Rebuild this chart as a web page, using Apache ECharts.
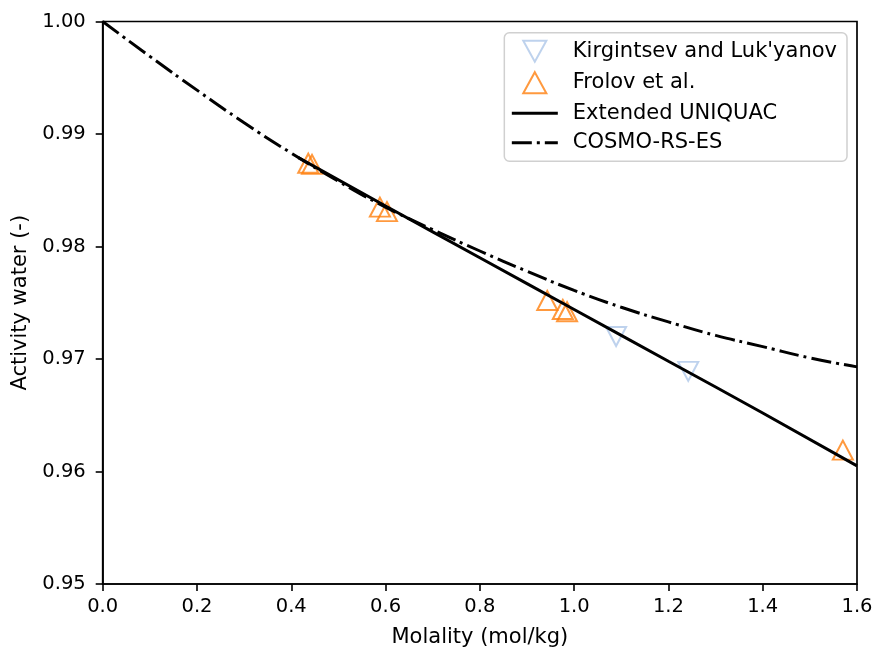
<!DOCTYPE html>
<html>
<head>
<meta charset="utf-8">
<script src="https://cdn.jsdelivr.net/npm/echarts@6/dist/echarts.min.js"></script>
<style>html,body{margin:0;padding:0;background:#fff}#c{width:875px;height:647px}</style>
</head>
<body>
<div id="c"></div>
<script>
const kirgX = [1.089, 1.242];
const kirgY = [0.9720, 0.9689];
const frolovX = [0.436, 0.444, 0.588, 0.603, 0.943, 0.976, 0.985, 1.570];
const frolovY = [0.9874, 0.9873, 0.9835, 0.9831, 0.9752, 0.9744, 0.9742, 0.9619];
const uniquacX = [0.415, 0.6, 0.8, 1.0, 1.2, 1.4, 1.6];
const uniquacY = [0.9879, 0.9836, 0.9790, 0.9744, 0.9698, 0.9652, 0.9605];
const cosmoX = [0, 0.1, 0.2, 0.3, 0.4, 0.5, 0.6, 0.7, 0.8, 0.9, 1.0, 1.1, 1.2, 1.3, 1.4, 1.5, 1.6];
const cosmoY = [1.0, 0.9969, 0.9939, 0.9910, 0.9883, 0.9858, 0.9835, 0.9815, 0.9796, 0.9778, 0.9761, 0.9746, 0.9733, 0.9721, 0.9711, 0.9701, 0.9693];
const xTicks = [0, 1.6, 0.2];
const yTicks = [0.95, 1.0, 0.01];
const legendNames = ["Kirgintsev and Luk'yanov", 'Frolov et al.', 'Extended UNIQUAC', 'COSMO-RS-ES'];

const zip = (a, b) => a.map((v, i) => [v, b[i]]);
const font = 'DejaVu Sans';
const chart = echarts.init(document.getElementById('c'));
chart.setOption({
  animation: false,
  backgroundColor: '#fff',
  grid: { left: 102.7, right: 18, top: 21.5, bottom: 63, outerBoundsMode: 'none', containLabel: false,
          show: true, borderColor: '#000', borderWidth: 1.7, backgroundColor: 'transparent' },
  xAxis: {
    type: 'value', min: xTicks[0], max: xTicks[1], interval: xTicks[2],
    name: 'Molality (mol/kg)', nameLocation: 'middle', nameGap: 43,
    nameTextStyle: { fontFamily: font, fontSize: 21, color: '#000' },
    axisLine: { lineStyle: { color: '#000', width: 1.7 } },
    axisTick: { length: 7, lineStyle: { color: '#000', width: 1.6 } },
    axisLabel: { fontFamily: font, fontSize: 19.5, color: '#000', margin: 13, formatter: v => v.toFixed(1) },
    splitLine: { show: false }
  },
  yAxis: {
    type: 'value', min: yTicks[0], max: yTicks[1], interval: yTicks[2],
    name: 'Activity water (-)', nameLocation: 'middle', nameGap: 70,
    nameTextStyle: { fontFamily: font, fontSize: 21, color: '#000' },
    axisLine: { show: true, lineStyle: { color: '#000', width: 1.7 } },
    axisTick: { show: true, length: 7, lineStyle: { color: '#000', width: 1.6 } },
    axisLabel: { fontFamily: font, fontSize: 19.5, color: '#000', margin: 17, formatter: v => v.toFixed(2) },
    splitLine: { show: false }
  },
  legend: {
    orient: 'vertical', right: 28, top: 32.7,
    padding: [7, 10, 8, 6], itemGap: 8.5, itemWidth: 46, itemHeight: 21,
    borderColor: '#d0d0d0', borderWidth: 1.5, borderRadius: 5, backgroundColor: 'rgba(255,255,255,0.8)',
    textStyle: { fontFamily: font, fontSize: 21, lineHeight: 21, color: '#000', padding: [0, 0, 0, 10] },
    data: [
      { name: legendNames[0], icon: 'path://M0,0 L22,0 L11,20 Z' },
      { name: legendNames[1], icon: 'path://M11,0 L22,20 L0,20 Z' },
      { name: legendNames[2], itemStyle: { opacity: 0 }, lineStyle: { width: 3 } },
      { name: legendNames[3], itemStyle: { opacity: 0 }, lineStyle: { width: 3, type: [20, 5, 3, 5] } }
    ]
  },
  series: [
    {
      name: legendNames[0], type: 'scatter', data: zip(kirgX, kirgY),
      symbol: 'triangle', symbolRotate: 180, symbolSize: [20, 19],
      itemStyle: { color: 'rgba(255,255,255,0)', borderColor: '#aec7e8', borderWidth: 2 }, z: 2
    },
    {
      name: legendNames[1], type: 'scatter', data: zip(frolovX, frolovY),
      symbol: 'triangle', symbolSize: [20, 19],
      itemStyle: { color: 'rgba(255,255,255,0)', borderColor: '#ff7f0e', borderWidth: 2 }, z: 2
    },
    {
      name: legendNames[2], type: 'line', data: zip(uniquacX, uniquacY),
      symbol: 'none', smooth: true, lineStyle: { color: '#000', width: 3 }, itemStyle: { color: '#000' }, z: 3
    },
    {
      name: legendNames[3], type: 'line', data: zip(cosmoX, cosmoY),
      symbol: 'none', smooth: true,
      lineStyle: { color: '#000', width: 3, type: [20, 5, 3, 5] }, itemStyle: { color: '#000' }, z: 3
    }
  ]
});
</script>
</body>
</html>
